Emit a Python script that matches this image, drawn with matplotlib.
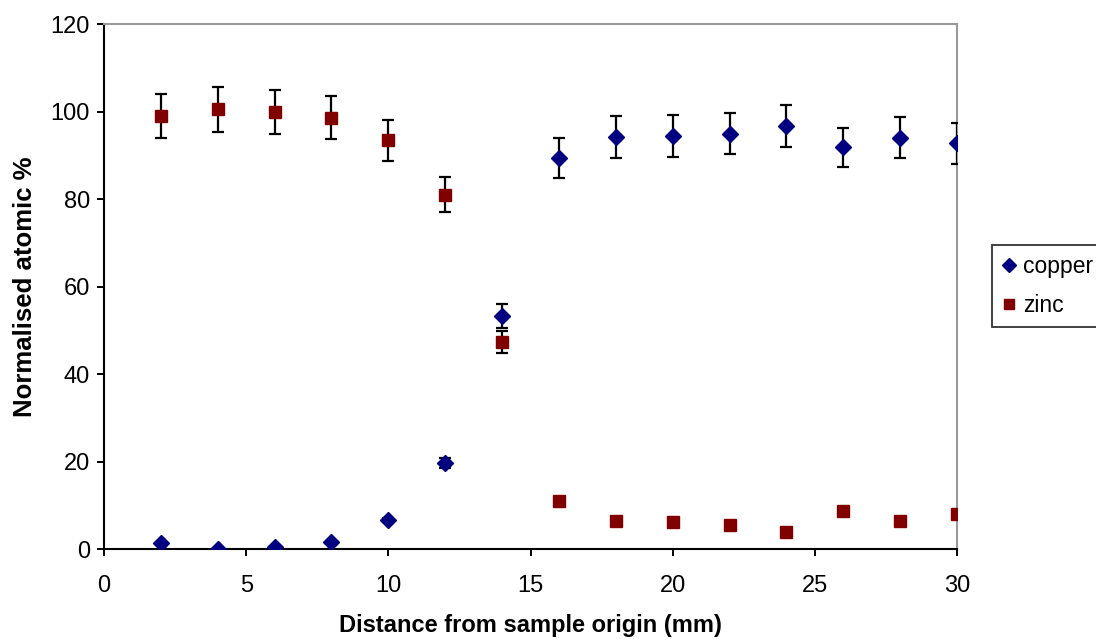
import matplotlib
matplotlib.use("Agg")
import matplotlib.pyplot as plt
import numpy as np

plt.rcParams['font.family'] = ['Liberation Sans', 'DejaVu Sans']

# distance along the sample (mm)
distance = [2, 4, 6, 8, 10, 12, 14, 16, 18, 20, 22, 24, 26, 28, 30]

copper = [1.3, 0.1, 0.4, 1.7, 6.6, 19.7, 53.2, 89.4, 94.2, 94.4, 94.9, 96.8, 91.8, 94.0, 92.7]
copper_err = [0.1, 0.0, 0.0, 0.1, 0.4, 1.1, 2.7, 4.6, 4.8, 4.8, 4.7, 4.8, 4.5, 4.7, 4.6]

zinc = [99.0, 100.5, 99.9, 98.6, 93.4, 81.0, 47.4, 11.0, 6.3, 6.2, 5.4, 3.8, 8.8, 6.3, 8.0]
zinc_err = [5.0, 5.1, 5.0, 4.9, 4.7, 4.0, 2.5, 0.4, 0.3, 0.3, 0.3, 0.2, 0.4, 0.3, 0.3]

fig = plt.figure(figsize=(10.96, 6.39), dpi=100)
ax = fig.add_axes([0.0949, 0.1408, 0.7783, 0.8216])

ax.errorbar(distance, copper, yerr=copper_err, fmt='D', color='#000080',
            markersize=8, ecolor='black', elinewidth=1.6, capsize=4.5, capthick=1.6,
            label='copper', zorder=3)
ax.errorbar(distance, zinc, yerr=zinc_err, fmt='s', color='#800000',
            markersize=8, ecolor='black', elinewidth=1.6, capsize=4.5, capthick=1.6,
            label='zinc', zorder=3)

ax.set_xlim(0, 30)
ax.set_ylim(0, 120)
ax.set_xticks(np.arange(0, 31, 5))
ax.set_yticks(np.arange(0, 121, 20))
ax.tick_params(axis='both', direction='out', length=5, width=1.4, labelsize=17)
ax.tick_params(axis='y', pad=5)
ax.tick_params(axis='x', pad=14)

ax.spines['left'].set_linewidth(1.5)
ax.spines['bottom'].set_linewidth(1.5)
ax.spines['top'].set_color('#999999')
ax.spines['right'].set_color('#999999')
ax.spines['top'].set_linewidth(1.5)
ax.spines['right'].set_linewidth(1.5)

ax.set_xlabel('Distance from sample origin (mm)', fontsize=17, fontweight='bold', labelpad=12)
ax.set_ylabel('Normalised atomic %', fontsize=18.5, fontweight='bold', labelpad=10)

handles, labels = ax.get_legend_handles_labels()
handles = [h[0] for h in handles]
leg = fig.legend(handles, labels, loc='upper left', bbox_to_anchor=(0.905, 0.617),
                 borderaxespad=0, fontsize=16.5, frameon=True, fancybox=False,
                 edgecolor='black', handlelength=0.6, handletextpad=0.3,
                 borderpad=0.45, labelspacing=0.7, markerscale=0.85)
leg.get_frame().set_linewidth(1.3)

fig.savefig('out.png', dpi=100)
